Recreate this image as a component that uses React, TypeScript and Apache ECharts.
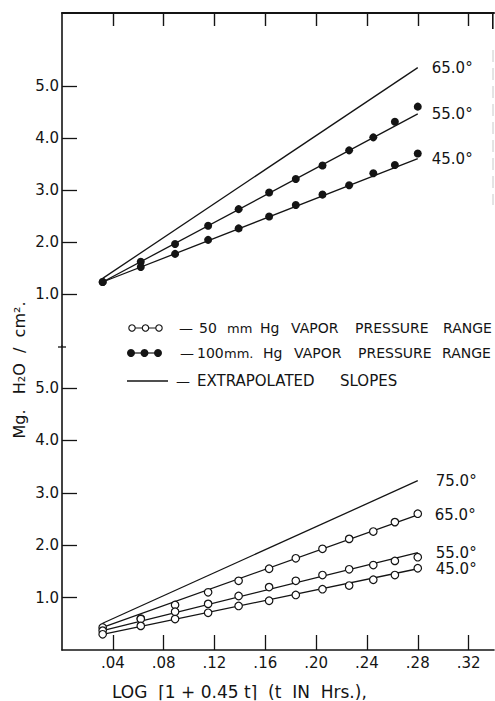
import React, { useEffect, useRef } from "react";
import * as echarts from "echarts";

// ---- data ----
const xTicks = [0.04, 0.08, 0.12, 0.16, 0.2, 0.24, 0.28, 0.32];
const yTicks = [1, 2, 3, 4, 5];
const xs = [0.032, 0.062, 0.089, 0.115, 0.139, 0.163, 0.184, 0.205, 0.226, 0.245, 0.262, 0.28];

// 100 mm Hg (filled dots), upper panel
const upper55 = [1.23, 1.62, 1.96, 2.31, 2.63, 2.95, 3.21, 3.47, 3.76, 4.01, 4.31, 4.6];
const upper45 = [1.23, 1.52, 1.77, 2.04, 2.26, 2.49, 2.71, 2.91, 3.09, 3.32, 3.48, 3.7];

// 50 mm Hg (open circles), lower panel
const lower65 = [0.43, 0.6, 0.86, 1.1, 1.32, 1.55, 1.75, 1.93, 2.12, 2.26, 2.44, 2.6];
const lower55 = [0.37, 0.59, 0.73, 0.88, 1.03, 1.2, 1.32, 1.43, 1.54, 1.62, 1.7, 1.77];
const lower45 = [0.3, 0.46, 0.59, 0.71, 0.84, 0.94, 1.05, 1.16, 1.23, 1.34, 1.43, 1.56];

// fitted / extrapolated slopes: [y at start, y at end]
const fitX = [0.032, 0.28];
const upperFit65 = [1.3, 5.35];
const upperFit55 = [1.23, 4.46];
const upperFit45 = [1.23, 3.6];
const lowerFit75 = [0.51, 3.23];
const lowerFit65 = [0.43, 2.58];
const lowerFit55 = [0.37, 1.86];
const lowerFit45 = [0.3, 1.55];

const upperLabels = ["65.0°", "55.0°", "45.0°"];
const lowerLabels = ["75.0°", "65.0°", "55.0°", "45.0°"];

const legendRow1 = ["—", "50", "mm", "Hg", "VAPOR", "PRESSURE", "RANGE"];
const legendRow2 = ["—", "100", "mm.", "Hg", "VAPOR", "PRESSURE", "RANGE"];
const legendRow3 = ["—", "EXTRAPOLATED", "SLOPES"];
const xTitle = "LOG  ⌈1 + 0.45 t⌉  (t  IN  Hrs.),";
const yTitle = "Mg.   H₂O  /  cm².";

const INK = "#141414";
const FONT = "DejaVu Sans";

// word left edges and sizes (layout)
const row1X = [179, 199, 227, 260, 291, 355, 443];
const row1S = [14, 14, 13, 14, 14, 14, 14];
const row2X = [180, 197, 224, 263, 294, 358, 442];
const row2S = [14, 14, 13, 14, 14, 14, 14];
const row3X = [176, 197, 340];
const row3S = [14, 15, 15];

function fitLine(grid: number, ys: number[], label: string, dist: number) {
  return {
    type: "line",
    xAxisIndex: grid,
    yAxisIndex: grid,
    data: [
      [fitX[0], ys[0]],
      [fitX[1], ys[1]],
    ],
    symbol: "none",
    lineStyle: { color: INK, width: 1.3 },
    z: 2,
    endLabel: {
      show: true,
      formatter: () => label,
      distance: dist,
      color: INK,
      fontSize: 15,
      fontFamily: FONT,
    },
  };
}

function dots(grid: number, ys: number[], open: boolean) {
  return {
    type: "scatter",
    xAxisIndex: grid,
    yAxisIndex: grid,
    data: xs.map((x, i) => [x, ys[i]]),
    symbol: "circle",
    symbolSize: open ? 7.5 : 8,
    itemStyle: open
      ? { color: "#fff", borderColor: INK, borderWidth: 1.2, opacity: 1 }
      : { color: INK, opacity: 1 },
    z: 3,
  };
}

function words(list: string[], xsPos: number[], sizes: number[], y: number) {
  return list.map((t, i) => ({
    type: "text",
    x: xsPos[i],
    y,
    style: { text: t, fontSize: sizes[i], fontFamily: FONT, fill: INK, verticalAlign: "middle" },
  }));
}

function mkAxisLine(width = 1.6) {
  return { show: true, onZero: false, lineStyle: { color: INK, width } };
}

export default function App() {
  const ref = useRef<HTMLDivElement>(null);
  useEffect(() => {
    if (!ref.current) return;
    const chart = echarts.init(ref.current, undefined, { renderer: "svg" });
    const yAxis = (grid: number, max: number) => ({
      type: "value",
      gridIndex: grid,
      min: 0,
      max,
      interval: 1,
      position: "left",
      splitLine: { show: false },
      axisLine: mkAxisLine(),
      axisTick: {
        show: true,
        inside: true,
        length: 15,
        customValues: yTicks,
        lineStyle: { color: INK, width: 1.3 },
      },
      axisLabel: {
        show: true,
        customValues: yTicks,
        formatter: (v: number) => v.toFixed(1),
        margin: 3,
        color: INK,
        fontSize: 15,
        fontFamily: FONT,
      },
    });
    chart.setOption({
      animation: false,
      backgroundColor: "#fff",
      grid: [
        { left: 62, top: 13, width: 432, height: 333 },
        { left: 62, top: 346, width: 432, height: 304 },
      ],
      xAxis: [
        {
          type: "value",
          gridIndex: 0,
          min: 0,
          max: 0.34,
          position: "top",
          splitLine: { show: false },
          axisLine: mkAxisLine(2),
          axisTick: {
            show: true,
            inside: true,
            length: 13,
            customValues: xTicks,
            lineStyle: { color: INK, width: 1.4 },
          },
          axisLabel: { show: false },
        },
        {
          type: "value",
          gridIndex: 1,
          min: 0,
          max: 0.34,
          position: "bottom",
          splitLine: { show: false },
          axisLine: mkAxisLine(),
          axisTick: {
            show: true,
            inside: true,
            length: 15,
            customValues: xTicks,
            lineStyle: { color: INK, width: 1.3 },
          },
          axisLabel: {
            show: true,
            customValues: xTicks,
            formatter: (v: number) => v.toFixed(2).replace(/^0/, ""),
            margin: 5,
            color: INK,
            fontSize: 15,
            fontFamily: FONT,
          },
        },
      ],
      yAxis: [yAxis(0, 6.4), yAxis(1, 5.8)],
      series: [
        fitLine(0, upperFit65, upperLabels[0], 14),
        fitLine(0, upperFit55, upperLabels[1], 14),
        fitLine(0, upperFit45, upperLabels[2], 14),
        dots(0, upper55, false),
        dots(0, upper45, false),
        fitLine(1, lowerFit75, lowerLabels[0], 18),
        fitLine(1, lowerFit65, lowerLabels[1], 17),
        fitLine(1, lowerFit55, lowerLabels[2], 18),
        fitLine(1, lowerFit45, lowerLabels[3], 18),
        dots(1, lower65, true),
        dots(1, lower55, true),
        dots(1, lower45, true),
      ],
      graphic: [
        // axis break mark
        { type: "line", shape: { x1: 58, y1: 347, x2: 66, y2: 347 }, style: { stroke: INK, lineWidth: 1.3 } },
        // right border fragments
        { type: "rect", shape: { x: 492, y: 13, width: 1.6, height: 16 }, style: { fill: INK } },
        { type: "line", shape: { x1: 493, y1: 50, x2: 493, y2: 205 }, style: { stroke: "#c8c8c8", lineWidth: 1, lineDash: [12, 6] } },
        // legend row 1
        { type: "line", shape: { x1: 132, y1: 328, x2: 159, y2: 328 }, style: { stroke: INK, lineWidth: 1 } },
        ...[132, 145.5, 159].map((cx) => ({
          type: "circle",
          shape: { cx, cy: 328, r: 3.2 },
          style: { fill: "#fff", stroke: INK, lineWidth: 1.1 },
        })),
        ...words(legendRow1, row1X, row1S, 328),
        // legend row 2
        { type: "line", shape: { x1: 131, y1: 353, x2: 158, y2: 353 }, style: { stroke: INK, lineWidth: 1.2 } },
        ...[131, 144.5, 158].map((cx) => ({
          type: "circle",
          shape: { cx, cy: 353, r: 4 },
          style: { fill: INK },
        })),
        ...words(legendRow2, row2X, row2S, 353),
        // legend row 3
        { type: "line", shape: { x1: 127, y1: 381, x2: 168, y2: 381 }, style: { stroke: INK, lineWidth: 1.3 } },
        ...words(legendRow3, row3X, row3S, 381),
        // axis titles
        {
          type: "text",
          x: 112,
          y: 692,
          style: { text: xTitle, fontSize: 17, fontFamily: FONT, fill: INK, verticalAlign: "middle" },
        },
        {
          type: "text",
          x: 19,
          y: 370,
          rotation: Math.PI / 2,
          style: { text: yTitle, fontSize: 16, fontFamily: FONT, fill: INK, align: "center", verticalAlign: "middle" },
        },
      ],
    });
    return () => chart.dispose();
  }, []);
  return (
    <div
      ref={ref}
      style={{ position: "fixed", left: 0, top: 0, width: 495, height: 701, background: "#fff" }}
    />
  );
}
